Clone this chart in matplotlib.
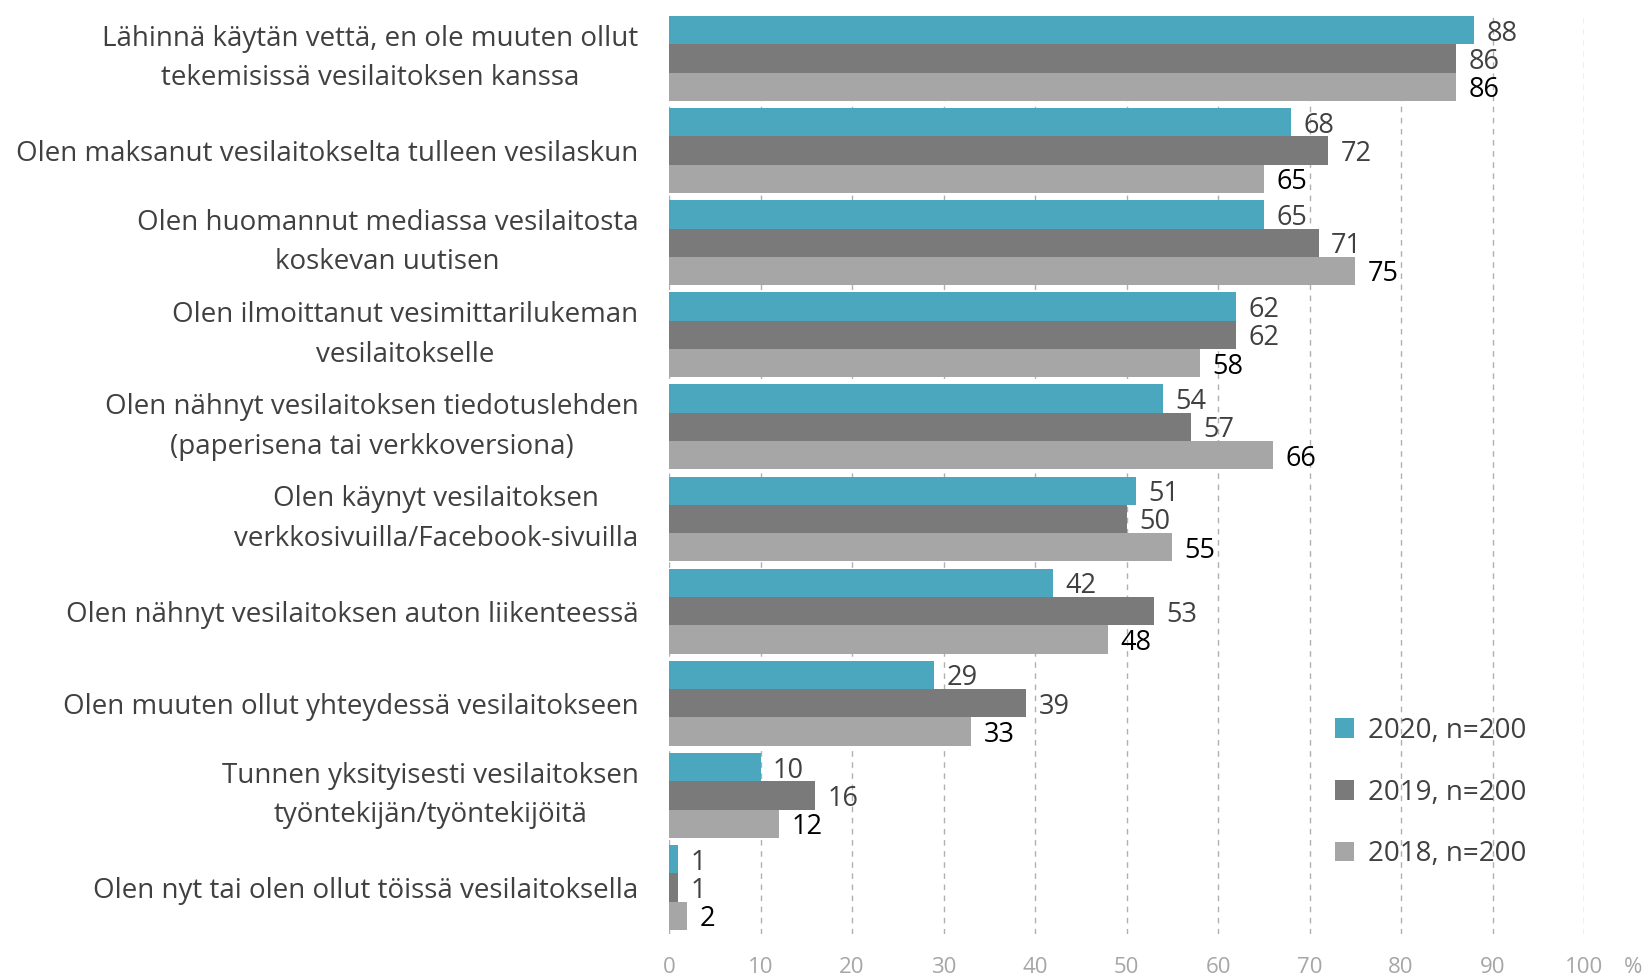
import matplotlib.pyplot as plt
import numpy as np

categories = [
    "Lähinnä käytän vettä, en ole muuten ollut\ntekemisissä vesilaitoksen kanssa",
    "Olen maksanut vesilaitokselta tulleen vesilaskun",
    "Olen huomannut mediassa vesilaitosta\nkoskevan uutisen",
    "Olen ilmoittanut vesimittarilukeman\nvesilaitokselle",
    "Olen nähnyt vesilaitoksen tiedotuslehden\n(paperisena tai verkkoversiona)",
    "Olen käynyt vesilaitoksen\nverkkosivuilla/Facebook-sivuilla",
    "Olen nähnyt vesilaitoksen auton liikenteessä",
    "Olen muuten ollut yhteydessä vesilaitokseen",
    "Tunnen yksityisesti vesilaitoksen\ntyöntekijän/työntekijöitä",
    "Olen nyt tai olen ollut töissä vesilaitoksella",
]
v2020 = [88, 68, 65, 62, 54, 51, 42, 29, 10, 1]
v2019 = [86, 72, 71, 62, 57, 50, 53, 39, 16, 1]
v2018 = [86, 65, 75, 58, 66, 55, 48, 33, 12, 2]
series_names = ["2020, n=200", "2019, n=200", "2018, n=200"]
colors = ["#4BA7BD", "#7A7A7A", "#A6A6A6"]
label_colors = ["#404040", "#404040", "#000000"]

plt.rcParams['font.family'] = ['Open Sans', 'DejaVu Sans']

fig = plt.figure(figsize=(16.5, 9.8), dpi=100)
ax = fig.add_axes([0.4055, 0.0474, 0.5545, 0.940])

y = np.arange(len(categories))
h = 0.307
for i, (vals, name) in enumerate(zip([v2020, v2019, v2018], series_names)):
    pos = y + (i - 1) * h
    bars = ax.barh(pos, vals, height=h, color=colors[i], label=name, zorder=3)
    for b, v in zip(bars, vals):
        ax.annotate(str(v), (b.get_width(), b.get_y() + b.get_height() / 2),
                    xytext=(9, -2.5), textcoords="offset points",
                    ha="left", va="center", fontsize=19.5, color=label_colors[i],
                    zorder=4)

ax.set_xlim(0, 100)
ax.set_ylim(len(categories) - 0.5, -0.5)
ax.set_xticks(np.arange(0, 101, 10))
ax.set_yticks(y)
ax.set_yticklabels(categories, fontsize=20, color="#404040", linespacing=1.55)
for lbl in ax.get_yticklabels():
    lbl.set_multialignment("center")
    if "\n" in lbl.get_text():
        lbl.set_va("center")
ax.tick_params(axis="y", length=0, pad=22)
ax.tick_params(axis="x", length=0, pad=17, labelsize=16, labelcolor="#A6A6A6")
ax.grid(axis="x", color="#B0B0B0", linestyle=(0, (4, 4)), linewidth=1, zorder=0)
for s in ax.spines.values():
    s.set_visible(False)
ax.annotate("%", xy=(100, 0), xycoords=("data", "axes fraction"),
            xytext=(35, -17), textcoords="offset points",
            ha="center", va="top", fontsize=16, color="#A6A6A6")

leg = ax.legend(loc="center left", bbox_to_anchor=(0.70, 0.153), frameon=False,
                fontsize=20, labelcolor="#404040", handlelength=0.7,
                handleheight=0.7, handletextpad=0.5, labelspacing=1.22)

fig.savefig("out.png", dpi=100)
